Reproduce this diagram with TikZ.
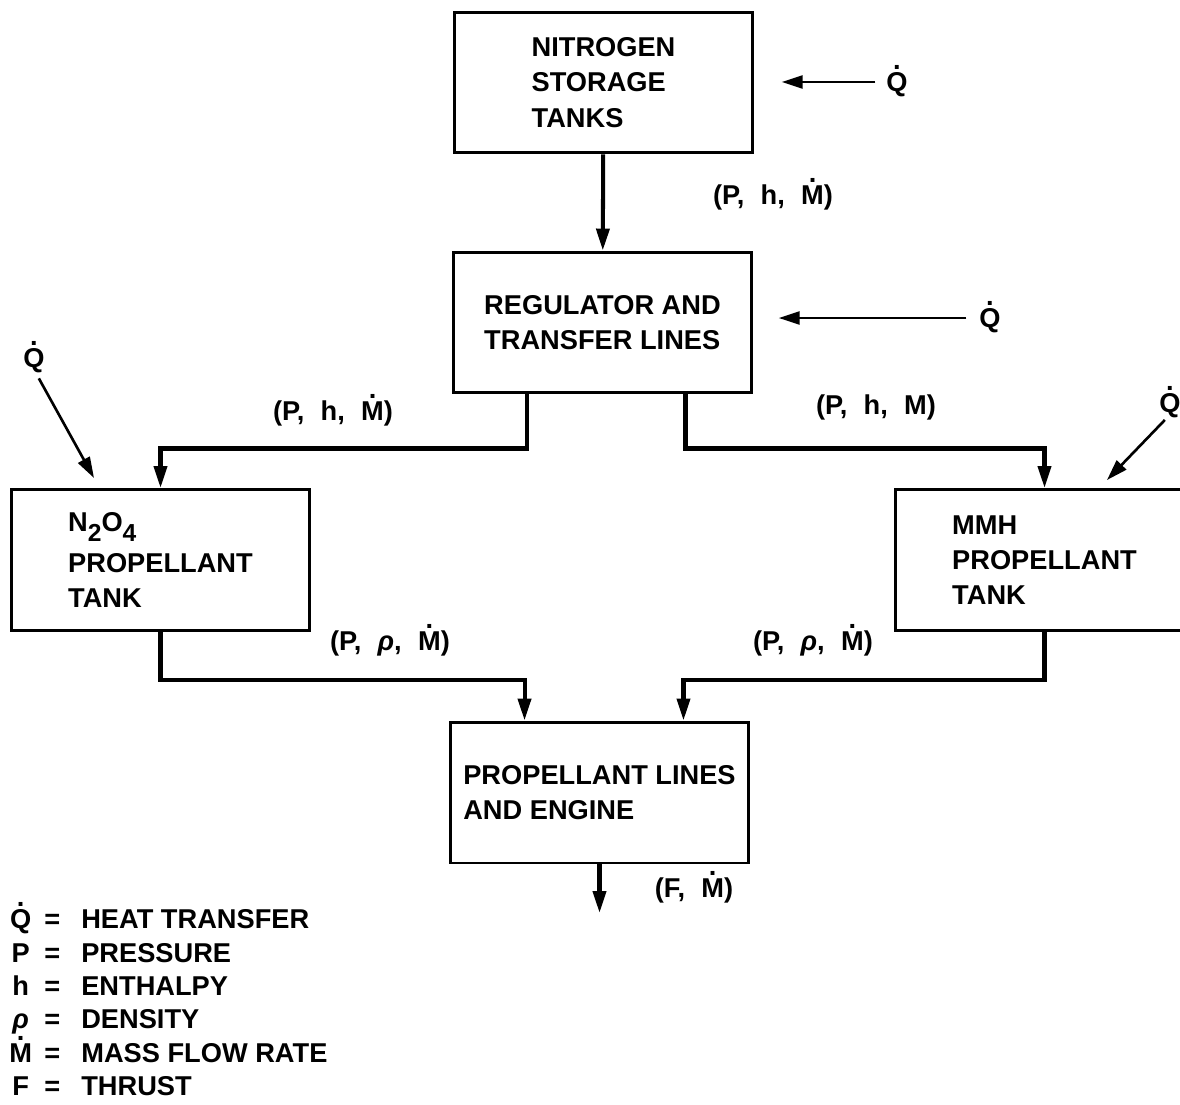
\documentclass[tikz,border=0pt]{standalone}
\usepackage{fontspec}
\setmainfont{Liberation Sans}
\usetikzlibrary{arrows.meta}
\newcommand{\od}[1]{\ooalign{#1\cr\hidewidth\raisebox{0.8em}{\textbf{.}}\hidewidth\cr}}
\newcommand{\rh}{\textit{ρ}}
\newcommand{\gp}{\hspace{0.6em}}
\newcommand{\lowsub}[1]{\raisebox{-0.7ex}{\fontsize{14}{14}\selectfont #1}}
\tikzset{
  box/.style={draw, line width=1.7pt, align=left, minimum width=5.95cm, minimum height=2.82cm, inner sep=4pt, font=\fontsize{15.5}{20}\selectfont\bfseries},
  arr/.style={-{Triangle[length=0.44cm, width=0.26cm]}, line width=2.3pt},
  qarr/.style={-{Triangle[length=0.42cm, width=0.26cm]}, line width=1.5pt},
  lbl/.style={font=\fontsize{15.5}{20}\selectfont\bfseries, inner sep=1pt}
}

\begin{document}
\begin{tikzpicture}[x=0.02cm, y=-0.02cm]
    \path[use as bounding box, clip] (0,0) rectangle (1180,1105);

    \node[box] (nit) at (603.5,82.5) {NITROGEN\\STORAGE\\TANKS};
    \node[box] (reg) at (602.5,322.5) {REGULATOR AND\\TRANSFER LINES};
    \node[box] (n2o) at (160.5,560) {N\lowsub{2}O\lowsub{4}\\[3pt]PROPELLANT\\TANK};
    \node[box] (mmh) at (1044.5,560) {MMH\\PROPELLANT\\TANK};
    \node[box] (eng) at (599.5,792.5) {PROPELLANT LINES\\AND ENGINE};
    \coordinate (outlet) at (599.5,913);

    \node[lbl] (q1) at (897,82) {\od{Q}};
    \node[lbl] (q2) at (990,318) {\od{Q}};
    \node[lbl] (q3) at (34,358) {\od{Q}};
    \node[lbl] (q4) at (1170,403) {\od{Q}};
    \coordinate (t3) at ([shift={(-1.33cm,0.2cm)}]n2o.north);
    \coordinate (t4) at ([shift={(1.25cm,0.16cm)}]mmh.north);

    \node[lbl] (l1) at (773,197) {(P,\gp h,\gp \od{M})};
    \node[lbl] (l2) at (333,413) {(P,\gp h,\gp \od{M})};
    \node[lbl] (l3) at (876,407) {(P,\gp h,\gp M)};
    \node[lbl] (l4) at (390,643) {(P,\gp \rh,\gp \od{M})};
    \node[lbl] (l5) at (813,643) {(P,\gp \rh,\gp \od{M})};
    \node[lbl] (l6) at (694,890) {(F,\gp \od{M})};

    \draw[arr] (nit) -- (reg);
    \draw[arr] ([xshift=-1.52cm]reg.south) -- ++(0,54) -| (n2o.north);
    \draw[arr] ([xshift=1.66cm]reg.south) -- ++(0,54) -| (mmh.north);
    \draw[arr] (n2o.south) -- ++(0,48) -| ([xshift=-1.5cm]eng.north);
    \draw[arr] (mmh.south) -- ++(0,48) -| ([xshift=1.68cm]eng.north);
    \draw[arr] (eng) -- (outlet);

    \draw[qarr, shorten >=0.56cm, shorten <=0.18cm] (q1.west) -- (q1.west -| nit.east);
    \draw[qarr, shorten >=0.52cm, shorten <=0.22cm] (q2.west) -- (q2.west -| reg.east);
    \draw[qarr, shorten <=0.2cm] (q3.south) -- (t3);
    \draw[qarr, shorten <=0.15cm] (q4.south) -- (t4);

    \node[anchor=north west, inner sep=0pt, font=\fontsize{15.5}{19}\selectfont\bfseries] (legend) at (9,905) {%
      \begin{tabular}{@{}c@{\hspace{7pt}}c@{\hspace{12pt}}l@{}}
        \od{Q} & = & HEAT TRANSFER\\
        P & = & PRESSURE\\
        h & = & ENTHALPY\\
        \rh & = & DENSITY\\
        \od{M} & = & MASS FLOW RATE\\
        F & = & THRUST
      \end{tabular}};
\end{tikzpicture}
\end{document}
